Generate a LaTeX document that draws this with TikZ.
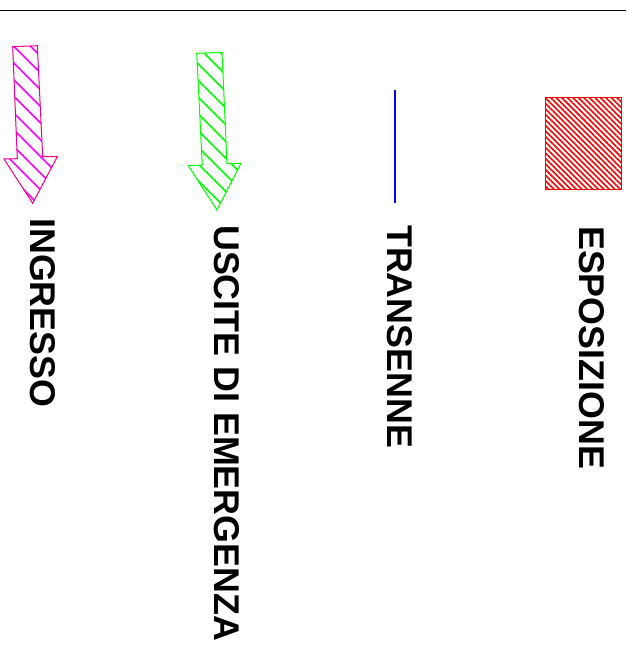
\documentclass[tikz,border=0pt]{standalone}
\usepackage{fontspec}
\setmainfont{Liberation Sans}
\usetikzlibrary{patterns.meta}

\begin{document}
\begin{tikzpicture}[x=1pt,y=-1pt,
  tratteggio/.style={draw=#1, line width=1pt, line join=miter,
    pattern={Lines[angle=-45,distance=11.8pt,line width=1.6pt]}, pattern color=#1},
  voce/.style={rotate=-90, anchor=west, inner sep=0pt,
    font=\fontsize{35.8}{40}\selectfont\bfseries}]
\useasboundingbox (0,0) rectangle (626,650);
\draw[line width=0.8pt] (0,10) -- (626,10);
% ingresso
\draw[tratteggio=magenta] (12.7,46.7) -- (37.3,45.7) -- (42.7,156.7) -- (57.3,156.7)
  -- (32.7,203.3) -- (4,159) -- (17.3,158.7) -- cycle;
% uscite di emergenza
\draw[tratteggio=green] (196.7,53.3) -- (222,52.3) -- (227,163.3) -- (241,163.3)
  -- (217,210) -- (188.3,165.7) -- (202.3,165) -- cycle;
% transenne
\draw[blue, line width=2pt] (395,90) -- (395,203.3);
% esposizione
\draw[draw=red, line width=1.4pt,
  pattern={Lines[angle=-45,distance=3.9pt,line width=1.6pt]}, pattern color=red]
  (545.7,97.3) rectangle (621.3,189.3);
% legenda
\node[voce] (ingresso) at (42.5,218) {INGRESSO};
\node[voce] (uscite) at (226.7,225) {USCITE DI EMERGENZA};
\node[voce] (transenne) at (399.7,225) {TRANSENNE};
\node[voce] (esposizione) at (591.7,226) {ESPOSIZIONE};
\end{tikzpicture}
\end{document}
